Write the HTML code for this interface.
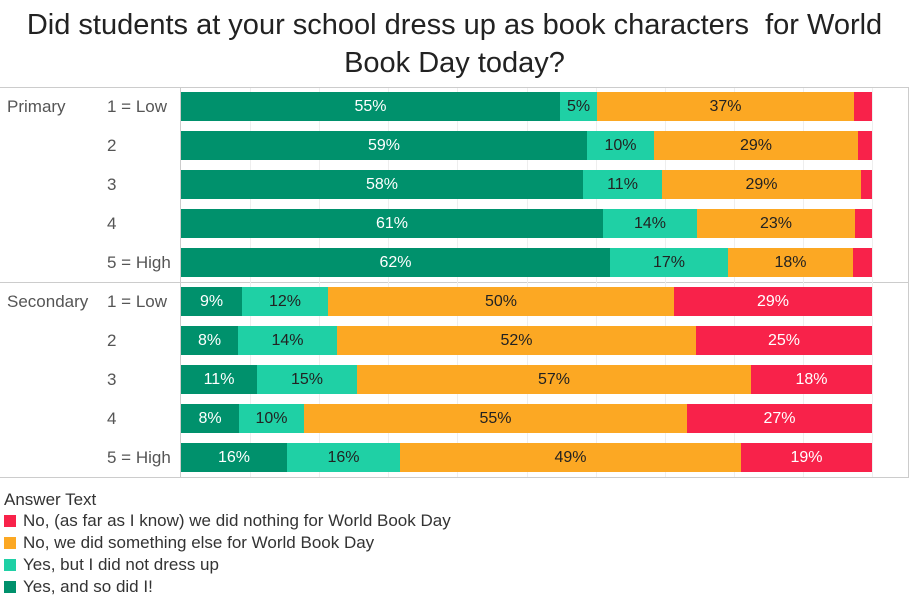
<!DOCTYPE html><html><head><style>
body{margin:0;width:909px;height:599px;background:#fff;font-family:"Liberation Sans",sans-serif;position:relative;overflow:hidden;color:#333}
.a{position:absolute}
.t{position:absolute;left:0;width:909px;text-align:center;font-size:29px;color:#222;line-height:38px;top:6px}
.s{position:absolute;height:29px;font-size:16px;line-height:29px;text-align:center;overflow:hidden}
.lab{position:absolute;font-size:17px;color:#555}
.g{position:absolute;top:88px;height:389px;width:1px;background:#eee}
.lg{position:absolute;left:4px;font-size:17px;color:#333}
.sq{display:inline-block;width:12px;height:12px;vertical-align:-1px;margin-right:7px}
</style></head><body>
<div class="t">Did students at your school dress up as book characters&nbsp; for World<br>Book Day today?</div>
<div class="a" style="left:0;top:87px;width:909px;height:1px;background:#ccc"></div>
<div class="a" style="left:0;top:282px;width:909px;height:1px;background:#ccc"></div>
<div class="a" style="left:0;top:477px;width:909px;height:1px;background:#ccc"></div>
<div class="a" style="left:180px;top:87px;width:1px;height:391px;background:#ccc"></div>
<div class="a" style="left:908px;top:87px;width:1px;height:391px;background:#ccc"></div>
<div id="grid"></div>
<div id="bars"></div>
<div class="lab" style="left:7px;top:97px">Primary</div>
<div class="lab" style="left:7px;top:292px">Secondary</div>
<div class="lg" style="top:490px">Answer Text</div>
<div class="lg" style="top:511px"><span class="sq" style="background:#f8224a"></span>No, (as far as I know) we did nothing for World Book Day</div>
<div class="lg" style="top:533px"><span class="sq" style="background:#fca823"></span>No, we did something else for World Book Day</div>
<div class="lg" style="top:555px"><span class="sq" style="background:#1fd0a5"></span>Yes, but I did not dress up</div>
<div class="lg" style="top:577px"><span class="sq" style="background:#00916c"></span>Yes, and so did I!</div>
<script>
var g='';for(var i=1;i<=10;i++){g+='<div class="g" style="left:'+(181+69.1*i)+'px"></div>';}
document.getElementById('grid').innerHTML=g;
var rows=[
[[181,560,'55%'],[560,597,'5%'],[597,854,'37%'],[854,872,'']],
[[181,587,'59%'],[587,654,'10%'],[654,858,'29%'],[858,872,'']],
[[181,583,'58%'],[583,662,'11%'],[662,861,'29%'],[861,872,'']],
[[181,603,'61%'],[603,697,'14%'],[697,855,'23%'],[855,872,'']],
[[181,610,'62%'],[610,728,'17%'],[728,853,'18%'],[853,872,'']],
[[181,242,'9%'],[242,328,'12%'],[328,674,'50%'],[674,872,'29%']],
[[181,238,'8%'],[238,337,'14%'],[337,696,'52%'],[696,872,'25%']],
[[181,257,'11%'],[257,357,'15%'],[357,751,'57%'],[751,872,'18%']],
[[181,239,'8%'],[239,304,'10%'],[304,687,'55%'],[687,872,'27%']],
[[181,287,'16%'],[287,400,'16%'],[400,741,'49%'],[741,872,'19%']]];
var cols=['#00916c','#1fd0a5','#fca823','#f8224a'],fc=['#fff','#222','#222','#fff'];
var lbl=['1 = Low','2','3','4','5 = High'];
var h='';
rows.forEach(function(r,i){var top=92+i*39;var cy=top+14;
h+='<div class="lab" style="left:107px;top:'+(cy-9)+'px">'+lbl[i%5]+'</div>';
r.forEach(function(s,j){h+='<div class="s" style="left:'+s[0]+'px;top:'+top+'px;width:'+(s[1]-s[0])+'px;background:'+cols[j]+';color:'+fc[j]+'">'+s[2]+'</div>';});});
document.getElementById('bars').innerHTML=h;
</script>
</body></html>
